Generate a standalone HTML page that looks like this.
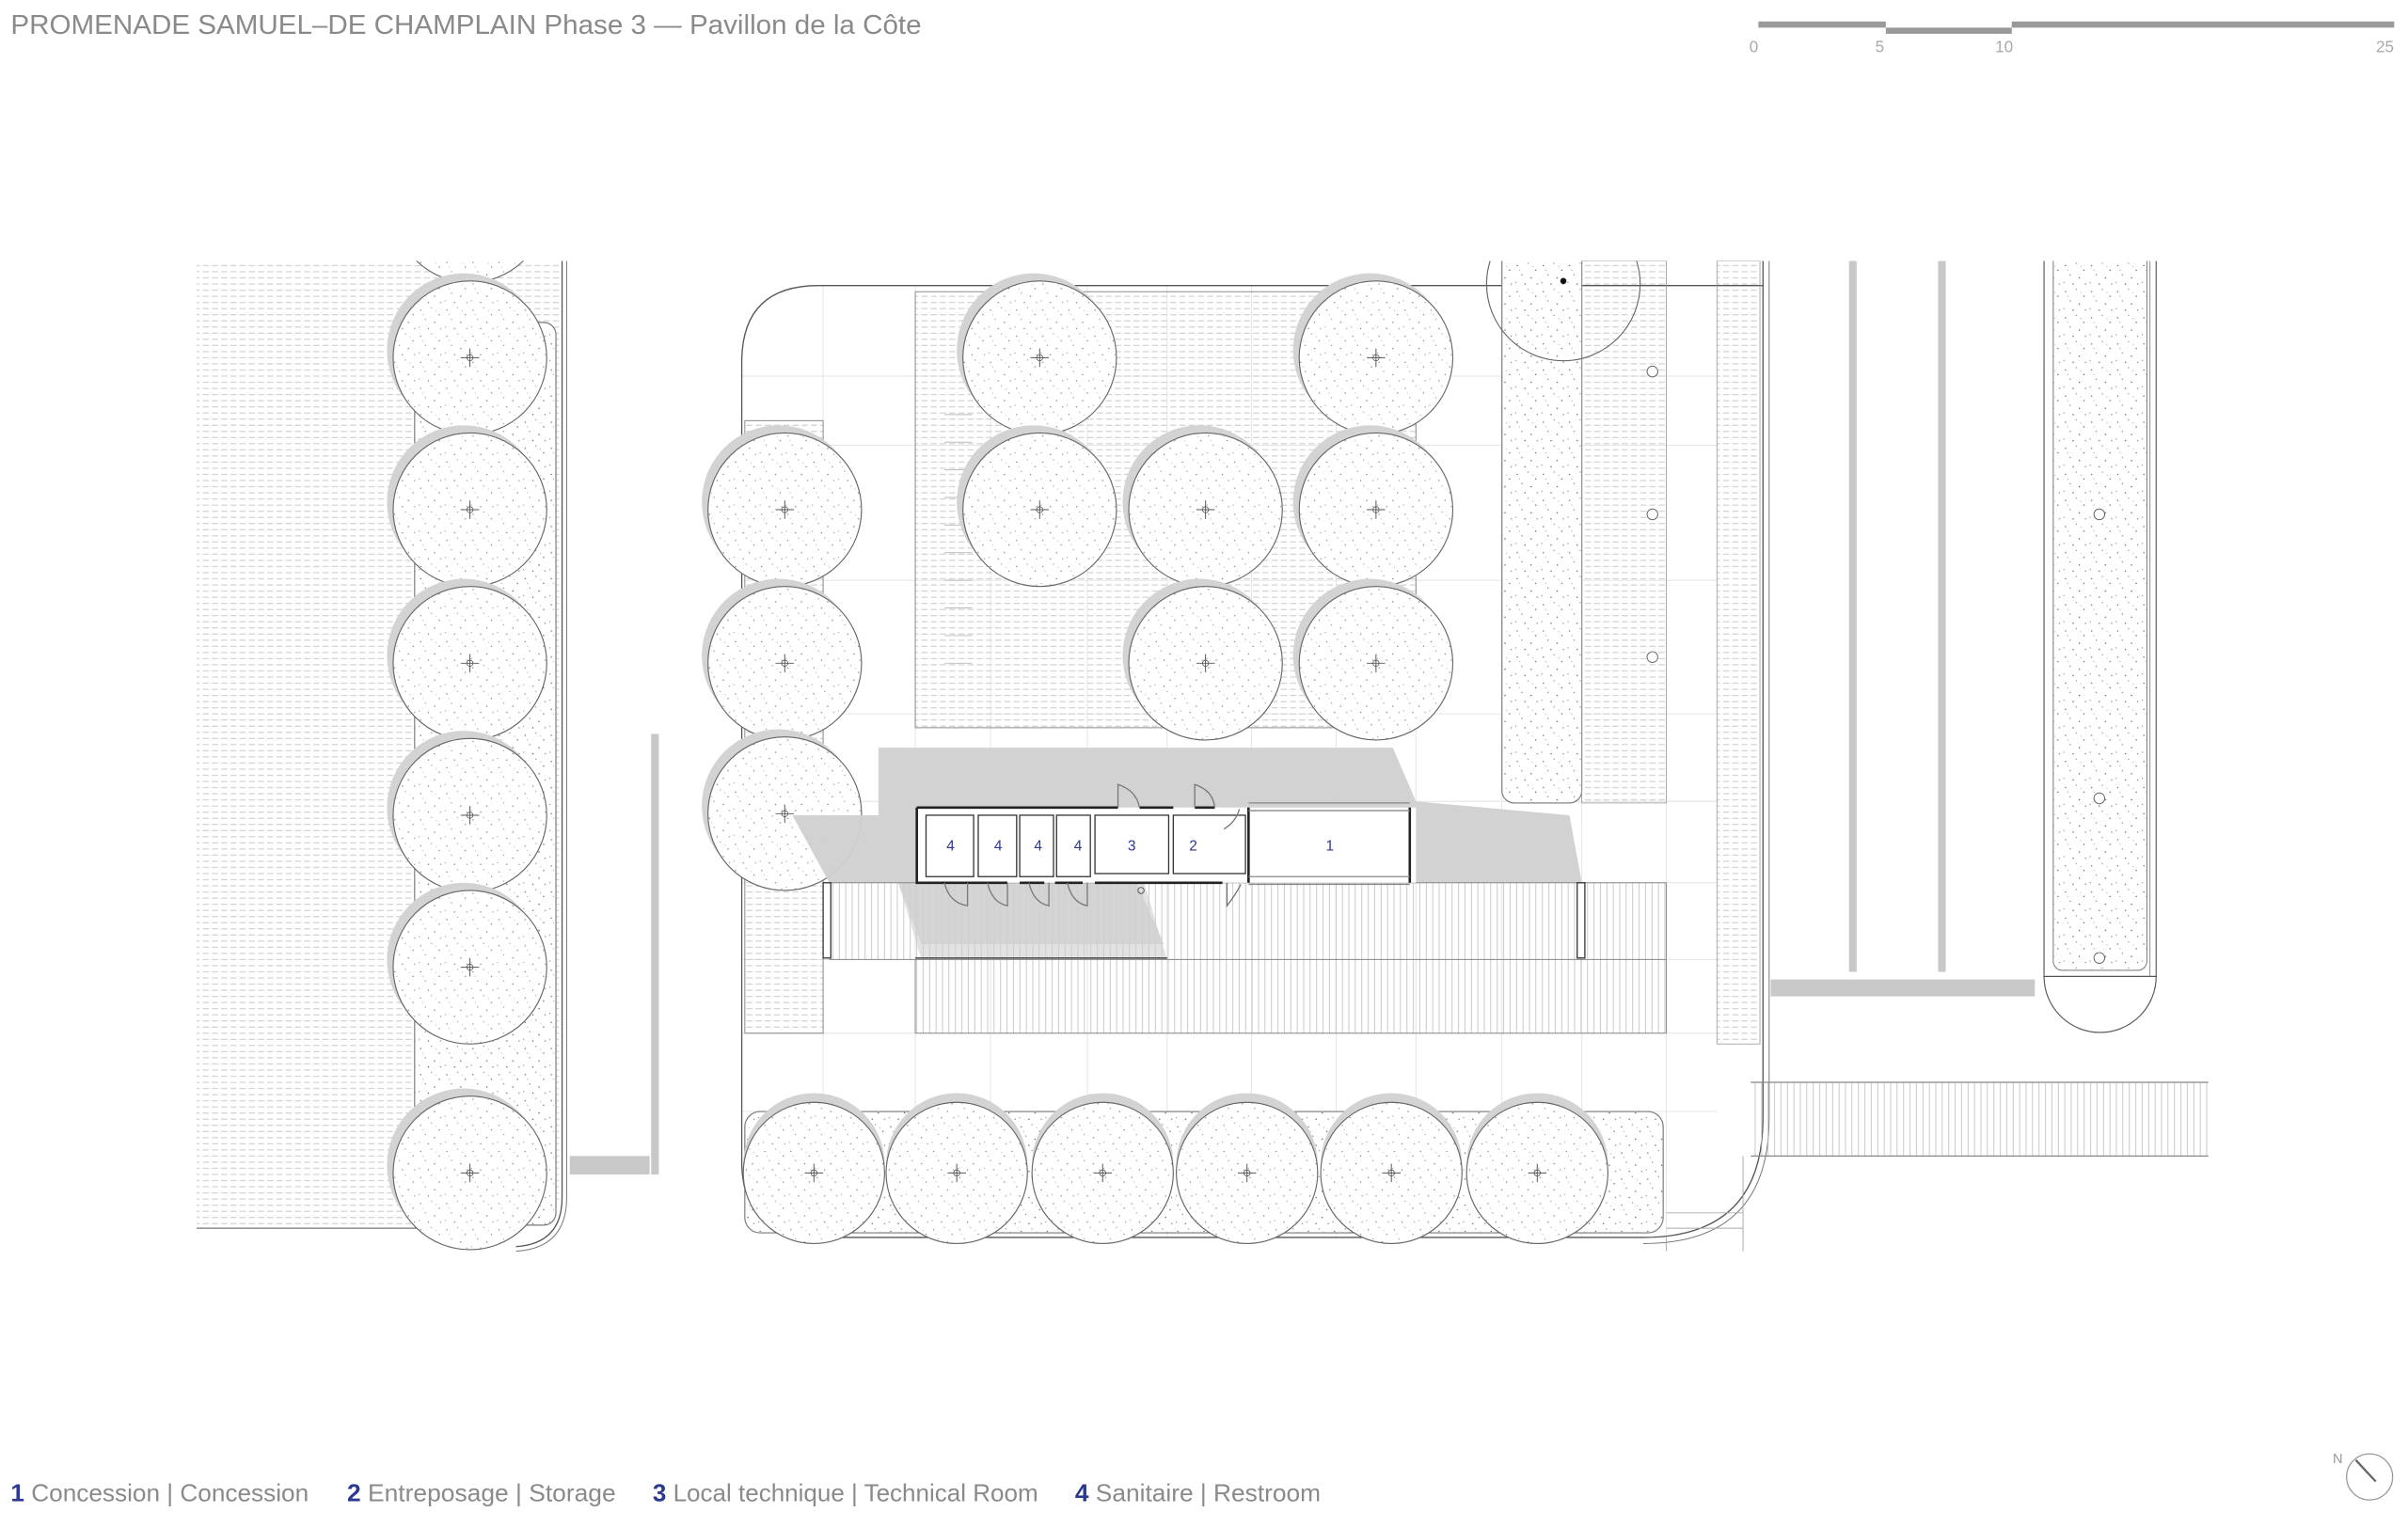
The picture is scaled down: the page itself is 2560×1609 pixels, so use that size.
<!DOCTYPE html>
<html><head><meta charset="utf-8"><style>
html,body{margin:0;padding:0;background:#fff;}
svg{display:block;}
text{font-family:"Liberation Sans",sans-serif;}
</style></head><body>
<svg width="2560" height="1609" viewBox="0 0 1568 985.5" xmlns="http://www.w3.org/2000/svg">
<defs>
<pattern id="hd" width="6" height="4" patternUnits="userSpaceOnUse">
<line x1="0" y1="1" x2="4" y2="1" stroke="#cfcfcf" stroke-width="0.7"/>
</pattern>
<pattern id="sp" width="17" height="17" patternUnits="userSpaceOnUse">
<circle cx="2" cy="3" r="0.45" fill="#666"/><circle cx="9" cy="1.5" r="0.4" fill="#888"/>
<circle cx="14" cy="6" r="0.45" fill="#666"/><circle cx="5" cy="9" r="0.4" fill="#777"/>
<circle cx="11" cy="11" r="0.45" fill="#666"/><circle cx="1" cy="14" r="0.4" fill="#888"/>
<circle cx="7" cy="15" r="0.45" fill="#666"/><circle cx="15" cy="15" r="0.4" fill="#777"/>
<circle cx="12" cy="3.5" r="0.35" fill="#999"/><circle cx="3.5" cy="6" r="0.35" fill="#999"/>
</pattern>
<pattern id="vl" width="4.2" height="10" patternUnits="userSpaceOnUse">
<line x1="0.5" y1="0" x2="0.5" y2="10" stroke="#bdbdbd" stroke-width="0.5"/>
</pattern>
<g id="tree">
<circle cx="-4" cy="-5" r="50" fill="#d3d3d3"/>
<circle cx="0" cy="0" r="50" fill="#fff" stroke="#666" stroke-width="0.7"/>
<circle cx="0" cy="0" r="50" fill="url(#sp)" opacity="0.8"/>
<line x1="-6" y1="0" x2="6" y2="0" stroke="#555" stroke-width="0.6"/>
<line x1="0" y1="-6" x2="0" y2="6" stroke="#555" stroke-width="0.6"/>
<circle r="2" fill="none" stroke="#555" stroke-width="0.5"/>
</g>
<g id="treeS">
<circle cx="0" cy="-6" r="46" fill="#d3d3d3"/>
<circle cx="0" cy="0" r="46" fill="#fff" stroke="#666" stroke-width="0.7"/>
<circle cx="0" cy="0" r="46" fill="url(#sp)" opacity="0.8"/>
<line x1="-6" y1="0" x2="6" y2="0" stroke="#555" stroke-width="0.6"/>
<line x1="0" y1="-6" x2="0" y2="6" stroke="#555" stroke-width="0.6"/>
<circle r="2" fill="none" stroke="#555" stroke-width="0.5"/>
</g>
<clipPath id="plan"><rect x="0" y="170" width="1568" height="700"/></clipPath>
</defs>

<text x="7" y="22" font-size="17.5" fill="#8a8a8a" textLength="593" lengthAdjust="spacingAndGlyphs">PROMENADE SAMUEL–DE CHAMPLAIN Phase 3 — Pavillon de la Côte</text>

<rect x="1145" y="14" width="83" height="4" fill="#999"/>
<rect x="1228" y="18" width="82" height="4" fill="#999"/>
<rect x="1310" y="14" width="249" height="4" fill="#999"/>
<g font-size="10.5" fill="#aaa" text-anchor="middle">
<text x="1142" y="34">0</text><text x="1224" y="34">5</text><text x="1305" y="34">10</text><text x="1553" y="34">25</text>
</g>

<g clip-path="url(#plan)">
<g stroke="#e4e4e4" stroke-width="0.6">
<line x1="536" y1="186" x2="536" y2="806"/><line x1="596" y1="186" x2="596" y2="806"/>
<line x1="645" y1="186" x2="645" y2="806"/><line x1="708" y1="186" x2="708" y2="806"/>
<line x1="760" y1="186" x2="760" y2="806"/><line x1="815" y1="186" x2="815" y2="806"/>
<line x1="870" y1="186" x2="870" y2="806"/><line x1="922" y1="186" x2="922" y2="806"/>
<line x1="978" y1="170" x2="978" y2="806"/><line x1="1030" y1="170" x2="1030" y2="806"/>
<line x1="1085" y1="170" x2="1085" y2="806"/>
<line x1="483" y1="245" x2="1118" y2="245"/><line x1="483" y1="290" x2="1118" y2="290"/>
<line x1="483" y1="378" x2="1118" y2="378"/><line x1="483" y1="465" x2="1118" y2="465"/>
<line x1="483" y1="522" x2="1118" y2="522"/><line x1="483" y1="575" x2="1118" y2="575"/>
<line x1="483" y1="625" x2="1118" y2="625"/><line x1="483" y1="673" x2="1118" y2="673"/>
<line x1="483" y1="724" x2="1118" y2="724"/>
</g>

<path d="M128 170 H365 V770 Q365 800 335 800 H128 Z" fill="url(#hd)"/>
<line x1="128" y1="800" x2="335" y2="800" stroke="#777" stroke-width="0.8"/>
<rect x="270" y="210" width="92" height="588" rx="8" fill="#fff" stroke="#777" stroke-width="0.7"/>
<rect x="270" y="210" width="92" height="588" rx="8" fill="url(#sp)"/>
<path d="M366 170 V780 Q366 810 336 812" fill="none" stroke="#555" stroke-width="0.8"/>
<path d="M369 170 V780 Q369 813 336 815" fill="none" stroke="#777" stroke-width="0.6"/>
<use href="#tree" x="306" y="134"/>
<use href="#tree" x="306" y="233"/>
<use href="#tree" x="306" y="332"/>
<use href="#tree" x="306" y="432"/>
<use href="#tree" x="306" y="531"/>
<use href="#tree" x="306" y="630"/>
<use href="#tree" x="306" y="764"/>
<rect x="424" y="478" width="5" height="287" fill="#c8c8c8"/>
<rect x="371" y="753" width="52" height="12" fill="#c8c8c8"/>

<path d="M533 186 H1148" fill="none" stroke="#555" stroke-width="0.8"/>
<path d="M533 186 Q483 186 483 236 V756 Q483 806 533 806 H1070 Q1148 806 1148 728 V170" fill="none" stroke="#555" stroke-width="0.8"/>
<path d="M1152 170 V728 Q1152 810 1070 810" fill="none" stroke="#777" stroke-width="0.6"/>

<rect x="596" y="190" width="326" height="284" fill="url(#hd)" stroke="#888" stroke-width="0.6"/>
<g stroke="#bbb" stroke-width="0.6" fill="none">
<path d="M615 270 h18 M615 288 h18 M615 306 h18 M615 324 h18 M615 342 h18 M615 360 h18 M615 378 h18 M615 396 h18 M615 414 h18 M615 432 h18"/>
</g>
<rect x="485" y="274" width="51" height="399" fill="url(#hd)" stroke="#888" stroke-width="0.6"/>

<rect x="978" y="160" width="52" height="363" rx="8" fill="#fff" stroke="#777" stroke-width="0.7"/>
<rect x="978" y="160" width="52" height="363" rx="8" fill="url(#sp)"/>
<rect x="1030" y="170" width="55" height="353" fill="url(#hd)" stroke="#999" stroke-width="0.5"/>
<g fill="#fff" stroke="#666" stroke-width="0.6">
<circle cx="1076" cy="242" r="3.5"/><circle cx="1076" cy="335" r="3.5"/><circle cx="1076" cy="428" r="3.5"/>
</g>
<rect x="1118" y="170" width="28" height="510" fill="url(#hd)" stroke="#999" stroke-width="0.5"/>
<circle cx="1018" cy="185" r="50" fill="none" stroke="#666" stroke-width="0.7"/>
<circle cx="1018" cy="183" r="2" fill="#111"/>

<use href="#tree" x="677" y="233"/>
<use href="#tree" x="896" y="233"/>
<use href="#tree" x="677" y="332"/>
<use href="#tree" x="785" y="332"/>
<use href="#tree" x="896" y="332"/>
<use href="#tree" x="785" y="432"/>
<use href="#tree" x="896" y="432"/>
<use href="#tree" x="511" y="332"/>
<use href="#tree" x="511" y="432"/>
<use href="#tree" x="511" y="530"/>

<path d="M572 487 H907 L922 522 L1022 531 L1030 575 L540 575 L516 531 L572 531 Z" fill="#d0d0d0" opacity="0.95"/>
<rect x="540" y="575" width="545" height="50" fill="url(#vl)"/>
<rect x="596" y="625" width="489" height="48" fill="url(#vl)"/>
<path d="M540 575 H585 L600 615 H758 L740 575 Z" fill="#cfcfcf" opacity="0.75"/>
<path d="M585 575 L600 625 H760 L745 575 Z" fill="#cfcfcf" opacity="0.6"/>
<g stroke="#888" stroke-width="0.6" fill="none">
<line x1="540" y1="575" x2="1085" y2="575"/><line x1="540" y1="625" x2="1085" y2="625"/>
<line x1="596" y1="673" x2="1085" y2="673"/><line x1="596" y1="625" x2="596" y2="673"/>
<line x1="1085" y1="575" x2="1085" y2="673"/>
</g>
<line x1="596" y1="624" x2="760" y2="624" stroke="#555" stroke-width="1"/>
<rect x="536" y="575" width="5" height="49" fill="#fff" stroke="#333" stroke-width="0.8"/>
<rect x="1027" y="575" width="5" height="49" fill="#fff" stroke="#333" stroke-width="0.8"/>

<rect x="597" y="526" width="325" height="49" fill="#fff"/>
<g fill="none" stroke="#222" stroke-width="1.6">
<path d="M597 526 H728 M742 526 H764 M778 526 H791 M597 526 V575 H656 M664 575 H680 M687 575 H705 M713 575 H796"/>
<path d="M813 526 V575 M813 568 v7"/>
<path d="M918 526 V575"/>
</g>
<g fill="none" stroke="#333" stroke-width="0.8">
<rect x="603" y="531" width="31" height="40"/>
<rect x="637" y="531" width="25" height="40"/>
<rect x="664" y="531" width="22" height="40"/>
<rect x="688" y="531" width="22" height="40"/>
<rect x="713" y="531" width="48" height="38"/>
<rect x="764" y="531" width="47" height="38"/>
<line x1="813" y1="523" x2="918" y2="523" stroke="#888"/>
<line x1="813" y1="528" x2="918" y2="528" stroke="#888"/>
<line x1="813" y1="571" x2="918" y2="571" stroke="#888"/>
<line x1="813" y1="576" x2="918" y2="576" stroke="#888"/>
<path d="M728 526 V511 Q740 515 742 526" stroke="#777"/>
<path d="M778 526 V511 Q790 515 791 526" stroke="#777"/>
<path d="M797 540 Q805 535 807 527" stroke="#777"/>
<path d="M615 575 Q618 588 630 590 V575" stroke="#777"/>
<path d="M643 575 Q646 588 656 590 V575" stroke="#777"/>
<path d="M670 575 Q673 588 683 590 V575" stroke="#777"/>
<path d="M695 575 Q698 588 708 590 V575" stroke="#777"/>
<path d="M799 575 V590 Q805 582 808 576" stroke="#777"/>
</g>
<g font-size="9.5" fill="#2b3990" text-anchor="middle">
<text x="619" y="554">4</text><text x="650" y="554">4</text><text x="676" y="554">4</text><text x="702" y="554">4</text>
<text x="737" y="554">3</text><text x="777" y="554">2</text><text x="866" y="554">1</text>
</g>
<circle cx="743" cy="580" r="2" fill="none" stroke="#555" stroke-width="0.6"/>

<rect x="485" y="724" width="598" height="79" rx="10" fill="#fff" stroke="#777" stroke-width="0.7"/>
<rect x="485" y="724" width="598" height="79" rx="10" fill="url(#sp)"/>
<use href="#treeS" x="530" y="764"/>
<use href="#treeS" x="623" y="764"/>
<use href="#treeS" x="718" y="764"/>
<use href="#treeS" x="812" y="764"/>
<use href="#treeS" x="906" y="764"/>
<use href="#treeS" x="1001" y="764"/>

<rect x="1204" y="170" width="5" height="463" fill="#c8c8c8"/>
<rect x="1262" y="170" width="5" height="463" fill="#c8c8c8"/>
<rect x="1153" y="638" width="172" height="11" fill="#c8c8c8"/>
<path d="M1331 170 V636 H1404 V170" fill="none" stroke="#555" stroke-width="0.7"/>
<path d="M1331 636 A36.5 36.5 0 0 0 1404 636" fill="none" stroke="#555" stroke-width="0.7"/>
<rect x="1337" y="160" width="61" height="472" rx="6" fill="#fff" stroke="#777" stroke-width="0.6"/>
<rect x="1337" y="160" width="61" height="472" rx="6" fill="url(#sp)"/>
<line x1="1400" y1="170" x2="1400" y2="636" stroke="#777" stroke-width="0.5"/>
<g fill="#fff" stroke="#666" stroke-width="0.6">
<circle cx="1367" cy="335" r="3.5"/><circle cx="1367" cy="520" r="3.5"/><circle cx="1367" cy="624" r="3.5"/>
</g>
<rect x="1140" y="705" width="298" height="48" fill="url(#vl)"/>
<line x1="1140" y1="705" x2="1438" y2="705" stroke="#888" stroke-width="0.8"/>
<line x1="1140" y1="753" x2="1438" y2="753" stroke="#888" stroke-width="0.8"/>
<g stroke="#aaa" stroke-width="0.6"><line x1="1085" y1="790" x2="1135" y2="790"/><line x1="1085" y1="800" x2="1135" y2="800"/><line x1="1135" y1="753" x2="1135" y2="815"/><line x1="1085" y1="806" x2="1085" y2="815"/></g>
</g>

<g font-size="16" fill="#8a8a8a">
<text x="7" y="978" textLength="194" lengthAdjust="spacingAndGlyphs"><tspan fill="#2b3990" font-weight="bold">1</tspan> Concession | Concession</text>
<text x="226" y="978" textLength="175" lengthAdjust="spacingAndGlyphs"><tspan fill="#2b3990" font-weight="bold">2</tspan> Entreposage | Storage</text>
<text x="425" y="978" textLength="251" lengthAdjust="spacingAndGlyphs"><tspan fill="#2b3990" font-weight="bold">3</tspan> Local technique | Technical Room</text>
<text x="700" y="978" textLength="160" lengthAdjust="spacingAndGlyphs"><tspan fill="#2b3990" font-weight="bold">4</tspan> Sanitaire | Restroom</text>
</g>
<circle cx="1543" cy="962" r="15" fill="none" stroke="#999" stroke-width="0.8"/>
<line x1="1534" y1="951" x2="1547" y2="965" stroke="#666" stroke-width="1.4"/>
<text x="1519" y="953" font-size="9" fill="#999">N</text>
</svg>
</body></html>
